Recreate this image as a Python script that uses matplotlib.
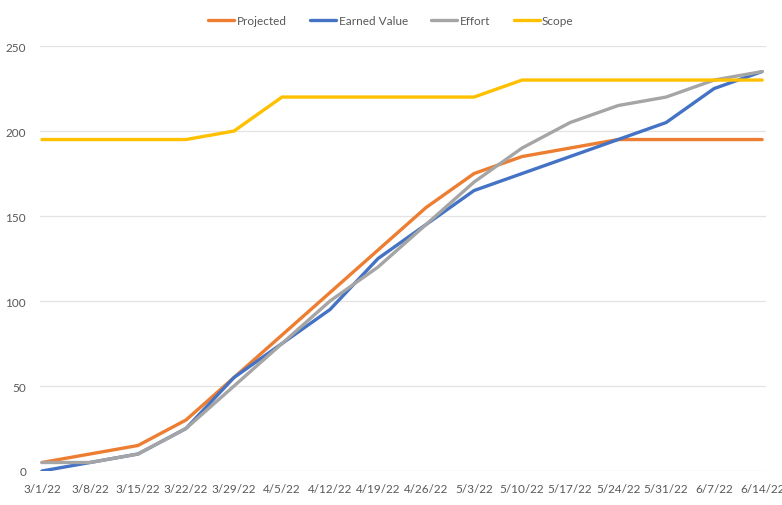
import matplotlib
matplotlib.use("Agg")
import matplotlib.pyplot as plt

weeks = ["3/1/22", "3/8/22", "3/15/22", "3/22/22", "3/29/22", "4/5/22", "4/12/22", "4/19/22",
         "4/26/22", "5/3/22", "5/10/22", "5/17/22", "5/24/22", "5/31/22", "6/7/22", "6/14/22"]
projected = [5, 10, 15, 30, 55, 80, 105, 130, 155, 175, 185, 190, 195, 195, 195, 195]
earned = [0, 5, 10, 25, 55, 75, 95, 125, 145, 165, 175, 185, 195, 205, 225, 235]
effort = [5, 5, 10, 25, 50, 75, 100, 120, 145, 170, 190, 205, 215, 220, 230, 235]
scope = [195, 195, 195, 195, 200, 220, 220, 220, 220, 220, 230, 230, 230, 230, 230, 230]

plt.rcParams['font.family'] = ['Lato', 'DejaVu Sans']

fig = plt.figure(figsize=(7.82, 5.06), dpi=100)
ax = fig.add_axes([0.0512, 0.0672, 0.9283, 0.8398])

lw = 2.4
ax.plot(weeks, projected, color="#ED7D31", lw=lw, label="Projected", solid_capstyle="round")
ax.plot(weeks, earned, color="#4472C4", lw=lw, label="Earned Value", solid_capstyle="round")
ax.plot(weeks, effort, color="#A5A5A5", lw=lw, label="Effort", solid_capstyle="round")
ax.plot(weeks, scope, color="#FFC000", lw=lw, label="Scope", solid_capstyle="round")

ax.set_ylim(0, 250)
ax.set_xlim(-0.04, 15.08)
ax.set_yticks([0, 50, 100, 150, 200, 250])
ax.grid(axis="y", color="#E3E3E3", lw=0.9)
ax.set_axisbelow(True)
for s in ax.spines.values():
    s.set_visible(False)
ax.tick_params(length=0, labelsize=8.5, labelcolor="#595959")
ax.tick_params(axis="x", pad=9)
ax.tick_params(axis="y", pad=10)

fig.legend(loc="upper center", bbox_to_anchor=(0.5, 0.99), ncol=4, frameon=False,
           fontsize=8.5, labelcolor="#595959", handlelength=2.2, handletextpad=0.2,
           columnspacing=2.0)

fig.savefig("out.png", dpi=100)
